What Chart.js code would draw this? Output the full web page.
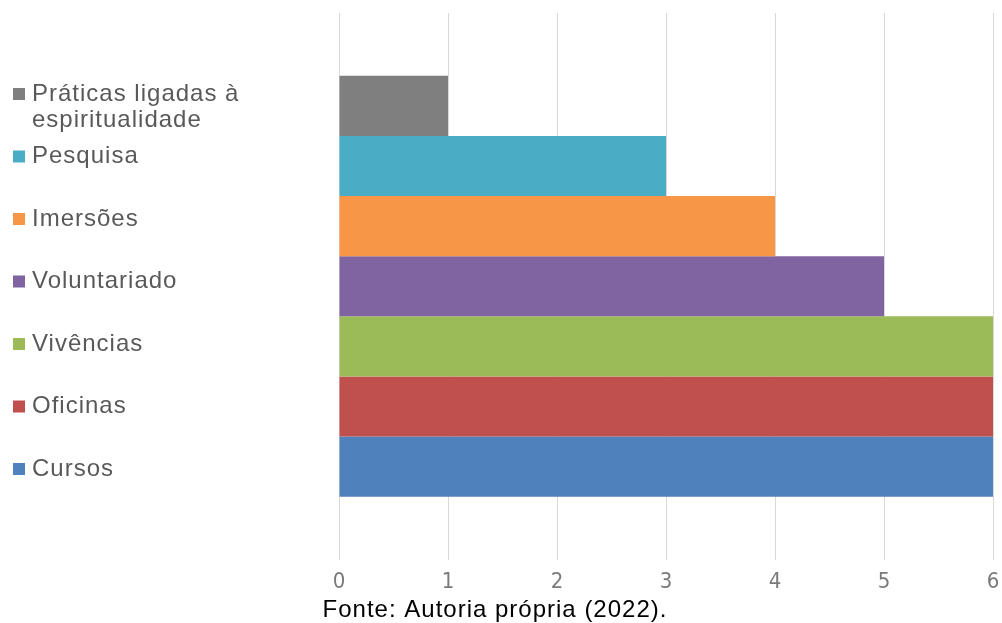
<!DOCTYPE html>
<html>
<head>
<meta charset="utf-8">
<script src="https://cdn.jsdelivr.net/npm/chart.js@4"></script>
<style>
  html, body { margin: 0; padding: 0; background: #fff; }
  canvas { display: block; }
</style>
</head>
<body>
<canvas id="chart" width="1002" height="623"></canvas>
<script>
// categories listed top to bottom as in the picture
const categories = ['Práticas ligadas à espiritualidade', 'Pesquisa', 'Imersões', 'Voluntariado', 'Vivências', 'Oficinas', 'Cursos'];
const counts = [1, 3, 4, 5, 6, 6, 6];
const colors = ['#7f7f7f', '#4bacc6', '#f79646', '#8064a2', '#9bbb59', '#c0504d', '#4f81bd'];
const xTicks = [0, 1, 2, 3, 4, 5, 6];
const caption = 'Fonte: Autoria própria (2022).';

const sideLegend = {
  id: 'sideLegend',
  afterDraw(chart) {
    const ctx = chart.ctx;
    ctx.save();
    ctx.font = '24px "Liberation Sans", Arial, sans-serif';
    ctx.letterSpacing = '1px';
    ctx.textBaseline = 'middle';
    ctx.textAlign = 'left';
    chart.data.datasets.forEach((ds, i) => {
      const y = 94 + i * 62.5;
      ctx.fillStyle = ds.backgroundColor;
      ctx.fillRect(13, y - 6, 12, 12);
      ctx.fillStyle = '#595959';
      // wrap long labels
      const words = ds.label.split(' ');
      const lines = [];
      let cur = '';
      words.forEach(w => {
        const test = cur ? cur + ' ' + w : w;
        if (ctx.measureText(test).width > 250 && cur) { lines.push(cur); cur = w; }
        else cur = test;
      });
      lines.push(cur);
      lines.forEach((ln, k) => ctx.fillText(ln, 32, y + k * 26));
    });
    ctx.fillStyle = '#000';
    ctx.textAlign = 'center';
    ctx.textBaseline = 'alphabetic';
    ctx.fillText(caption, 495, 617);
    ctx.restore();
  }
};

new Chart(document.getElementById('chart'), {
  type: 'bar',
  data: {
    labels: [''],
    datasets: categories.map((c, i) => ({
      label: c,
      data: [counts[i]],
      backgroundColor: colors[i],
      borderWidth: 0
    }))
  },
  options: {
    indexAxis: 'y',
    responsive: false,
    animation: false,
    datasets: { bar: { categoryPercentage: 0.77, barPercentage: 1.0 } },
    layout: { padding: { left: 339, right: 9, top: 13, bottom: 19 } },
    plugins: { legend: { display: false }, tooltip: { enabled: false } },
    scales: {
      x: {
        min: 0,
        max: 6,
        afterBuildTicks: axis => { axis.ticks = xTicks.map(v => ({ value: v })); },
        afterFit: axis => { axis.paddingRight = 0; axis.paddingLeft = 0; },
        grid: { color: '#d9d9d9', lineWidth: 1, drawTicks: false },
        border: { display: false },
        ticks: {
          color: '#7a7a7a',
          padding: 9,
          font: { family: '"DejaVu Sans Condensed", "Liberation Sans", sans-serif', size: 22 }
        }
      },
      y: { display: false }
    }
  },
  plugins: [sideLegend]
});
</script>
</body>
</html>
